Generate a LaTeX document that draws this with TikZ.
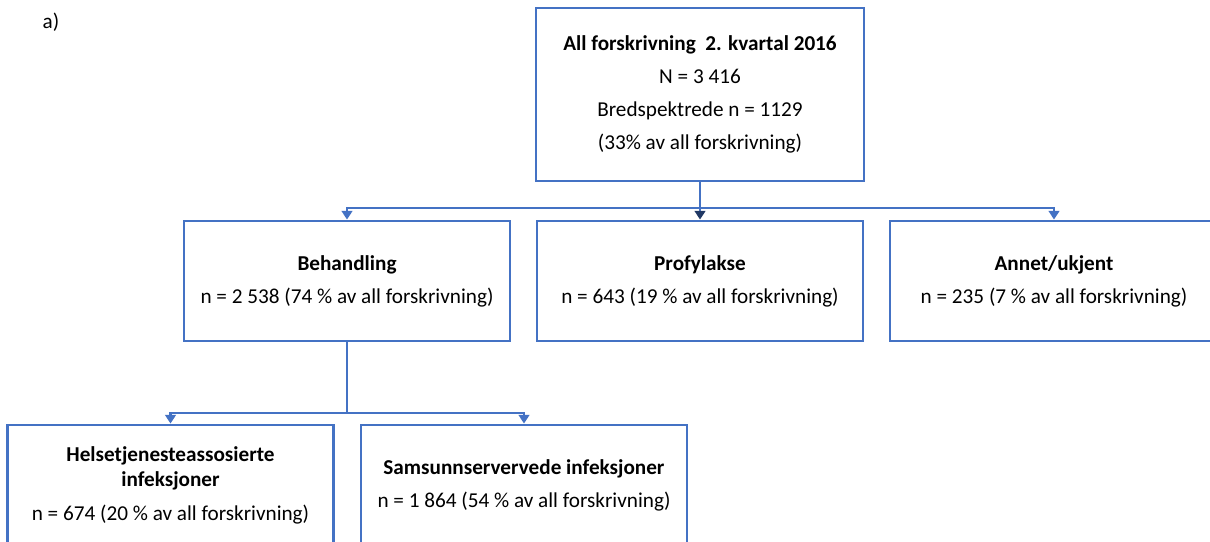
\documentclass[tikz,border=0pt]{standalone}
\usepackage{fontspec}
\setmainfont{Carlito}
\usepackage{tikz}
\usetikzlibrary{arrows.meta,positioning,calc}
\definecolor{boxblue}{HTML}{4472C4}
\definecolor{tipnavy}{HTML}{203864}

\begin{document}
\begin{tikzpicture}[x=0.75pt,y=-0.75pt,font=\fontsize{15.9}{19.3}\selectfont,
  box/.style={draw=boxblue,line width=2.2pt,minimum width=244.5pt,minimum height=90pt,inner sep=0pt,align=center},
  conn/.style={draw=boxblue,line width=2.2pt},
  tipped/.style={conn,-{Triangle[width=8pt,length=6.5pt]}}]
  \clip (0,0) rectangle (1210,542);
  \node (lbl) at (51,22) {a)};
  % top
  \node[box,minimum width=246pt,minimum height=129.75pt] (all) at (700,94.5)
    {\textbf{All forskrivning~ 2. kvartal 2016}\\[5.5pt] N = 3 416\\[5.5pt]
     Bredspektrede n = 1129\\[5.5pt] (33\% av all forskrivning)};
  % second row
  \node[box] (beh) at (347,281) {\textbf{Behandling}\\[5.5pt] n = 2 538 (74 \% av all forskrivning)};
  \node[box] (prof) at (700,281) {\textbf{Profylakse}\\[5.5pt] n = 643 (19 \% av all forskrivning)};
  \node[box,minimum width=246pt] (annet) at (1054,281) {\textbf{Annet/ukjent}\\[5.5pt] n = 235 (7 \% av all forskrivning)};
  % third row
  \node[box,minimum width=245pt] (helse) at (170.5,485)
    {\textbf{Helsetjenesteassosierte}\\ \textbf{infeksjoner}\\[5.5pt] n = 674 (20 \% av all forskrivning)};
  \node[box] (samf) at (524,485)
    {\textbf{Samsunnservervede infeksjoner}\\[5.5pt] n = 1 864 (54 \% av all forskrivning)};

  \coordinate (split) at (700,208);
  \draw[conn] (all.south) -- (split);
  \draw[tipped] (split) -| (beh.north);
  \draw[tipped] (split) -| (annet.north);
  \draw[conn,-{Triangle[width=8pt,length=6.5pt,color=tipnavy]}] (split) -- (prof.north);

  \coordinate (split2) at (347,413);
  \draw[conn] (beh.south) -- (split2);
  \draw[tipped] (split2) -| (helse.north);
  \draw[tipped] (split2) -| (samf.north);
\end{tikzpicture}
\end{document}
